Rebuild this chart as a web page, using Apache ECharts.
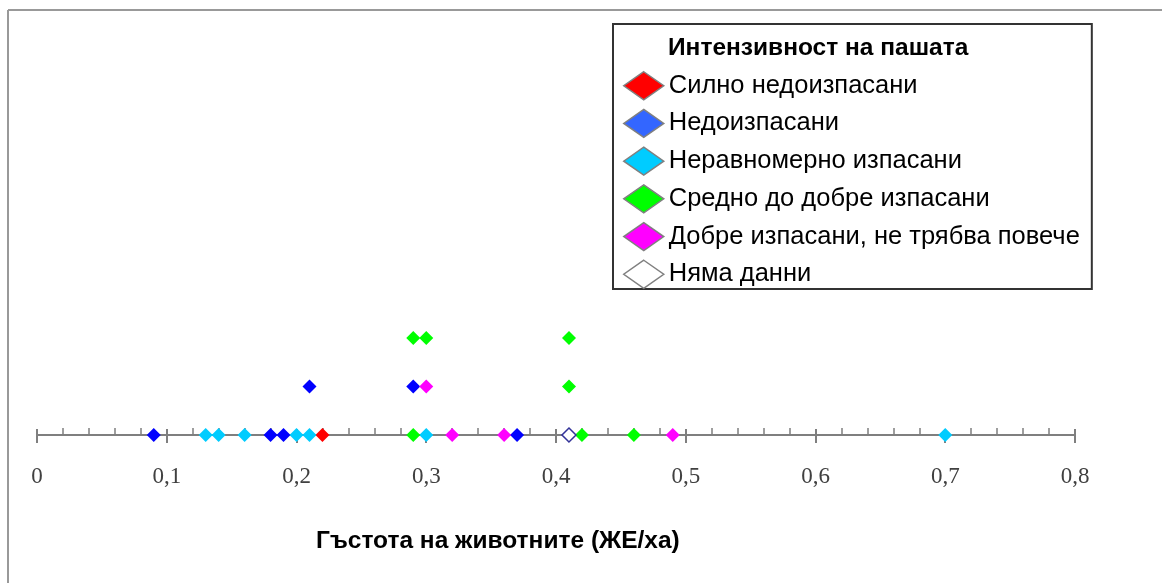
<!DOCTYPE html>
<html>
<head>
<meta charset="utf-8">
<script src="https://cdn.jsdelivr.net/npm/echarts@6/dist/echarts.min.js"></script>
<style>html,body{margin:0;padding:0;background:#fff;}#c{width:1162px;height:583px;}</style>
</head>
<body>
<div id="c"></div>
<script>
// Data: [animal density (LU/ha), stacking level]
const seriesNames = ['Силно недоизпасани','Недоизпасани','Неравномерно изпасани','Средно до добре изпасани','Добре изпасани, не трябва повече','Няма данни'];
const strongUnder = [[0.22,0]];
const under = [[0.09,0],[0.18,0],[0.19,0],[0.37,0],[0.21,1],[0.29,1]];
const uneven = [[0.13,0],[0.14,0],[0.16,0],[0.20,0],[0.21,0],[0.30,0],[0.70,0]];
const medium = [[0.29,0],[0.42,0],[0.46,0],[0.41,1],[0.29,2],[0.30,2],[0.41,2]];
const good = [[0.32,0],[0.36,0],[0.49,0],[0.30,1]];
const noData = [[0.41,0]];
const xTicks = [0,0.1,0.2,0.3,0.4,0.5,0.6,0.7,0.8];
const legendTitle = 'Интензивност на пашата';
const axisTitle = 'Гъстота на животните (ЖЕ/ха)';

const pointColors = ['#ff0000','#0000ff','#00ccff','#00ff00','#ff00ff','#ffffff'];
const legendColors = ['#ff0000','#3366ff','#00ccff','#00ff00','#ff00ff','#ffffff'];
const allData = [strongUnder, under, uneven, medium, good, noData];

const chart = echarts.init(document.getElementById('c'), null, {renderer:'canvas'});
const series = allData.map((d,i)=>({
  name: seriesNames[i],
  type: 'scatter',
  symbol: 'diamond',
  symbolSize: [14,14],
  data: d,
  clip: false,
  itemStyle: i===5 ? {color:'#ffffff', borderColor:'#333399', borderWidth:1.5, opacity:1} : {color: pointColors[i], opacity:1},
  z: 5
}));

const fmt = v => String(Math.round(v*10)/10).replace('.', ',');

chart.setOption({
  animation: false,
  backgroundColor: '#ffffff',
  grid: {left: 37, right: 87, top: 47, bottom: 148},
  xAxis: [{
    type: 'value', min: xTicks[0], max: xTicks[xTicks.length-1], interval: 0.1,
    position: 'bottom',
    axisLine: {show: true, lineStyle: {color: '#7f7f7f', width: 2}},
    axisTick: {show: true, inside: true, length: 6, lineStyle: {color: '#7f7f7f', width: 2}},
    minorTick: {show: true, splitNumber: 5, length: 7, lineStyle: {color: '#7f7f7f', width: 1.5}},
    axisLabel: {show: false},
    splitLine: {show: false}, minorSplitLine: {show: false}
  },{
    type: 'value', min: xTicks[0], max: xTicks[xTicks.length-1], interval: 0.1,
    position: 'bottom', gridIndex: 0,
    axisLine: {show: false},
    axisTick: {show: true, inside: false, length: 8, lineStyle: {color: '#7f7f7f', width: 2}},
    axisLabel: {show: true, margin: 30, formatter: fmt, fontFamily: '"Liberation Serif", "DejaVu Serif", serif', fontSize: 23, color: '#404040'},
    splitLine: {show: false}
  }],
  yAxis: {type: 'value', min: 0, max: 8, show: false, splitLine: {show: false}},
  legend: {
    orient: 'vertical',
    left: 613, top: 24,
    padding: [47, 12, 0, 10],
    borderColor: '#333333', borderWidth: 2,
    itemWidth: 40, itemHeight: 28, itemGap: 8.2,
    icon: 'diamond',
    textStyle: {fontFamily: '"Liberation Sans", Arial, sans-serif', fontSize: 25.5, lineHeight: 28, color: '#000'},
    data: seriesNames.map((n,i)=>({name: n, icon: 'diamond', itemStyle: {color: legendColors[i], borderColor: '#808080', borderWidth: 1.5, opacity: 1}}))
  },
  graphic: [
    {type:'line', shape:{x1:8,y1:10,x2:1162,y2:10}, style:{stroke:'#999999', lineWidth:2}, silent:true},
    {type:'line', shape:{x1:8,y1:10,x2:8,y2:583}, style:{stroke:'#999999', lineWidth:2}, silent:true},
    {type:'text', left: 668, top: 36, style:{text: legendTitle, font:'bold 24.5px "Liberation Sans", Arial, sans-serif', fill:'#000'}, z: 10},
    {type:'text', left: 316, top: 529, style:{text: axisTitle, font:'bold 24.5px "Liberation Sans", Arial, sans-serif', fill:'#000'}, z: 10}
  ],
  series: series
});
</script>
</body>
</html>
